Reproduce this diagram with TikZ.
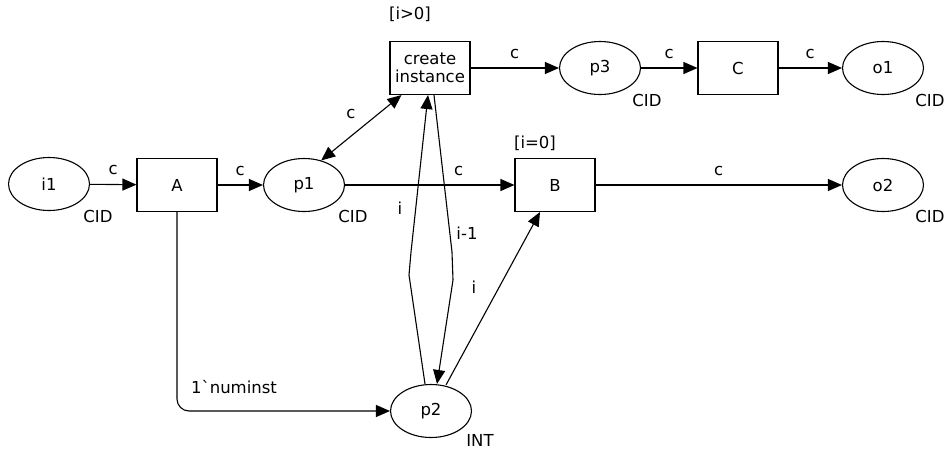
\documentclass[tikz,border=0pt]{standalone}
\usepackage{fontspec}
\setmainfont{DejaVu Sans}
\usetikzlibrary{shapes.geometric,arrows.meta,calc}
\begin{document}
\begin{tikzpicture}[x=1pt,y=-1pt,
  font=\fontsize{16.5}{19}\selectfont,
  every path/.style={line width=1.1pt},
  place/.style={draw,ellipse,minimum width=81pt,minimum height=53pt,inner sep=0pt},
  trans/.style={draw,rectangle,minimum width=80pt,minimum height=53pt,inner sep=0pt,align=center},
  lbl/.style={inner sep=0pt},
  arc/.style={-{Triangle[length=14pt,width=12pt]}},
  darc/.style={{Triangle[length=14pt,width=12pt]}-{Triangle[length=14pt,width=12pt]}}]
\useasboundingbox (0,0) rectangle (945,450);
% places
\node[place] (i1) at (49,184) {i1};
\node[place] (p1) at (304,185) {p1};
\node[place] (p3) at (600,68) {p3};
\node[place] (o1) at (883,68) {o1};
\node[place] (o2) at (883,185) {o2};
\node[place] (p2) at (431,411) {p2};
% transitions
\node[trans] (A) at (177,185) {A};
\node[trans] (ci) at (430,68) {create\\[-1pt]instance};
\node[trans] (C) at (738,68) {C};
\node[trans] (B) at (555,185) {B};
% colour sets
\node[lbl] (t1) at (98,216) {CID};
\node[lbl] (t2) at (353,216) {CID};
\node[lbl] (t3) at (647,100) {CID};
\node[lbl] (t4) at (930,100) {CID};
\node[lbl] (t5) at (930,216) {CID};
\node[lbl] (t6) at (480,440) {INT};
% guards
\node[lbl] (g1) at (410,14) {[i>0]};
\node[lbl] (g2) at (535,143) {[i=0]};
% arcs
\draw[arc] (i1) -- (A) node[lbl,midway,above=9pt] {c};
\draw[arc] (A) -- (p1) node[lbl,midway,above=9pt] {c};
\draw[arc] (ci) -- (p3) node[lbl,midway,above=9pt] {c};
\draw[arc] (p3) -- (C) node[lbl,midway,above=9pt] {c};
\draw[arc] (C) -- (o1) node[lbl,midway,above=9pt] {c};
\draw[arc] (p1) -- (B) node[lbl,pos=0.67,above=9pt] {c};
\draw[arc] (B) -- (o2) node[lbl,pos=0.5,above=9pt] {c};
\draw[darc] (p1.55) -- ($(ci.south west)+(12,0)$);
\node[lbl] (lc) at (351,114) {c};
\draw[arc] ($(p2.north)+(-6,0)$) -- (409,275) -- (411,252) -- ($(ci.south)+(-2,0)$);
\node[lbl] (li) at (400,208) {i};
\draw[arc] ($(ci.south)+(4,0)$) -- (452,252) -- (453,280) -- ($(p2.north)+(6,0)$);
\node[lbl] (lim) at (467,233) {i-1};
\draw[arc] ($(p2.north)+(15,1)$) -- ($(B.south)+(-15,0)$);
\node[lbl] (li2) at (474,287) {i};
\draw[arc,rounded corners=12pt] (A.south) |- (p2.west);
\node[lbl] (ln) at (234,387) {1\textasciigrave numinst};
\end{tikzpicture}
\end{document}
